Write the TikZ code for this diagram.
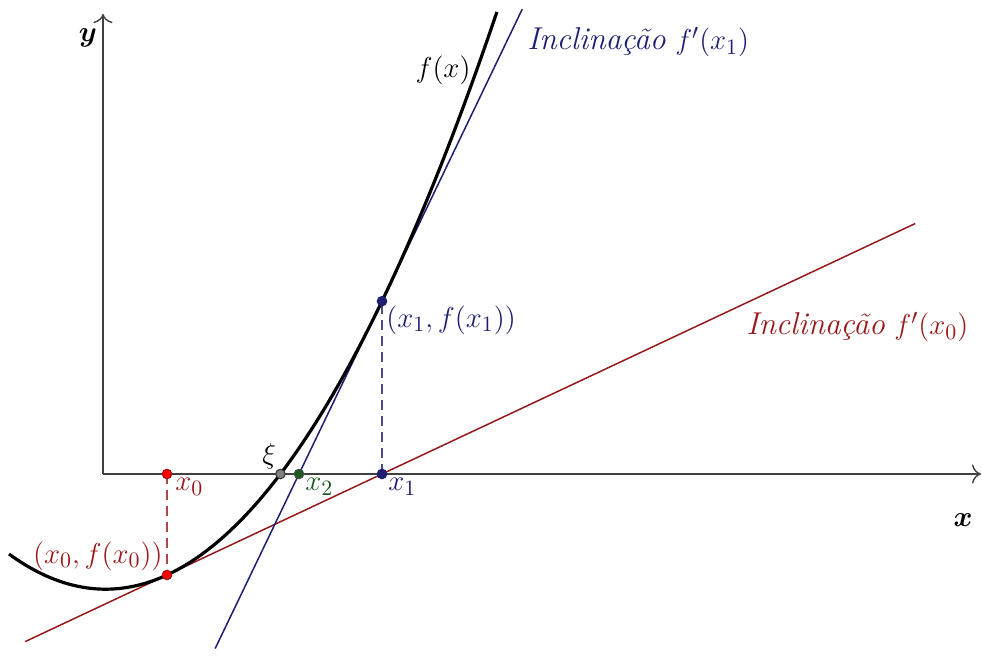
\documentclass[tikz,border=0pt]{standalone}
\usepackage{fontspec}
\usepackage{amsmath}
\usepackage{tikz}
\usetikzlibrary{arrows.meta, positioning, calc}
\definecolor{tanred}{RGB}{150,25,25}
\definecolor{tanblue}{RGB}{30,30,115}
\definecolor{ptgreen}{RGB}{25,90,30}

\begin{document}
\begin{tikzpicture}[
  x=50pt, y=50pt,
  axis/.style={-{To[length=1.6mm]}, line width=0.7pt, black!75},
  curve/.style={line width=1.6pt, black},
  tangent/.style={line width=0.75pt},
  guide/.style={line width=0.7pt, dash pattern=on 5pt off 3pt},
  dot/.style={circle, draw, line width=0.5pt, inner sep=0pt, minimum size=4.8pt},
  lbl/.style={font=\fontsize{15.8}{19}\selectfont, inner sep=2pt}
]
  \useasboundingbox (-1.03,-1.95) rectangle (8.79,4.74);
  % axes
  \coordinate (O) at (0,0);
  \coordinate (xend) at (8.78,0);
  \coordinate (yend) at (0,4.6);
  \draw[axis] (O) -- (xend);
  \draw[axis] (O) -- (yend);

  % points on the axis and on the curve
  \coordinate (x0) at (0.64,0);
  \coordinate (P0) at (0.64,{0.377*(0.64-0.026)^2-1.152});
  \coordinate (x1) at (2.79,0);
  \coordinate (P1) at (2.79,{0.377*(2.79-0.026)^2-1.152});
  \coordinate (x2) at (1.96,0);
  \coordinate (xi) at (1.774,0);

  % tangent lines
  \coordinate (r0) at ($(P0)!-0.66!(x1)$);
  \coordinate (r1) at ($(P0)!3.48!(x1)$);
  \coordinate (b0) at ($(x2)!-1.01!(P1)$);
  \coordinate (b1) at ($(x2)!2.69!(P1)$);
  \draw[tangent, tanred] (r0) -- (r1);
  \draw[tangent, tanblue] (b0) -- (b1);

  % dashed guides
  \draw[guide, tanred!80] (x0) -- (P0);
  \draw[guide, tanblue!80] (x1) -- (P1);

  % the function
  \draw[curve, domain=-0.94:3.94, samples=120] plot (\x, {0.377*(\x-0.026)^2-1.152});

  % dots
  \node[dot, fill=red, draw=tanred] (d0) at (x0) {};
  \node[dot, fill=red, draw=tanred] (e0) at (P0) {};
  \node[dot, fill=tanblue, draw=tanblue] (d1) at (x1) {};
  \node[dot, fill=tanblue, draw=tanblue] (e1) at (P1) {};
  \node[dot, fill=ptgreen, draw=black!70] (d2) at (x2) {};
  \node[dot, fill=black!50, draw=black!80] (dxi) at (xi) {};

  % labels
  \node[lbl] (ylbl) at (-0.15,4.36) {$\boldsymbol{y}$};
  \node[lbl] (xlbl) at (8.60,-0.46) {$\boldsymbol{x}$};
  \node[lbl] (flbl) at (3.40,4.04) {$f(x)$};
  \node[lbl, tanblue, anchor=west] (s1) at (4.2,4.32) {\textit{Inclinação} $f'(x_1)$};
  \node[lbl, tanred] (s0) at (7.545,1.47) {\textit{Inclinação} $f'(x_0)$};
  \node[lbl, tanblue, anchor=north west] (p1lbl) at (P1) {$(x_1, f(x_1))$};
  \node[lbl, tanred, anchor=south east] (p0lbl) at (P0) {$(x_0, f(x_0))$};
  \node[lbl, tanred, anchor=north west, xshift=2pt] (x0lbl) at (x0) {$x_0$};
  \node[lbl, tanblue, anchor=north west, xshift=1pt] (x1lbl) at (x1) {$x_1$};
  \node[lbl, ptgreen, anchor=north west, xshift=1pt] (x2lbl) at (x2) {$x_2$};
  \node[lbl, anchor=south east] (xilbl) at (xi) {$\xi$};
\end{tikzpicture}
\end{document}
